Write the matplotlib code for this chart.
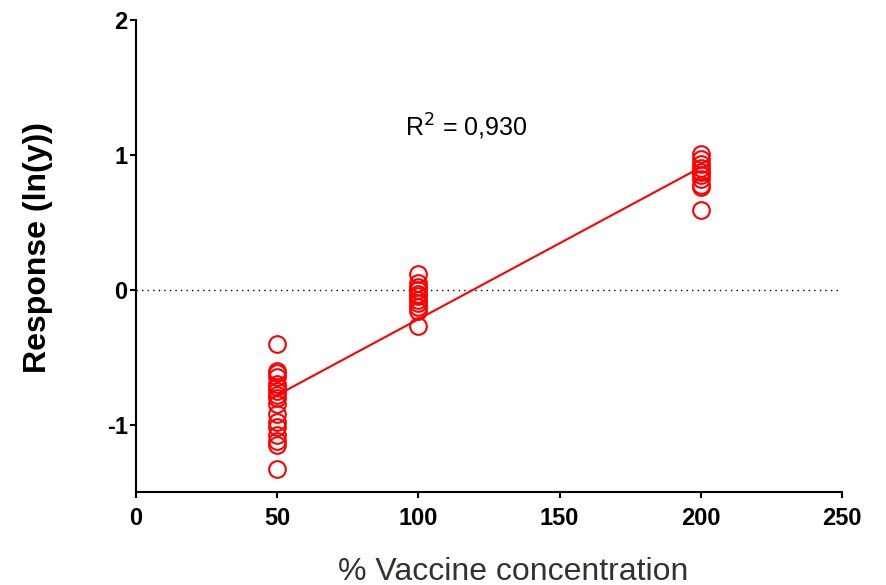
import matplotlib
matplotlib.use("Agg")
import matplotlib.pyplot as plt
import numpy as np

plt.rcParams['font.family'] = ['Liberation Sans', 'DejaVu Sans']
plt.rcParams['axes.unicode_minus'] = False

conc_50 = [-0.40, -0.60, -0.62, -0.65, -0.70, -0.72, -0.75, -0.78, -0.80, -0.85,
           -0.92, -0.98, -1.02, -1.08, -1.12, -1.15, -1.33]
conc_100 = [0.12, 0.05, 0.02, 0.0, -0.03, -0.05, -0.08, -0.10, -0.13, -0.16, -0.27]
conc_200 = [1.01, 0.97, 0.93, 0.90, 0.87, 0.85, 0.82, 0.78, 0.76, 0.59]
x_levels = [50, 100, 200]
r2_label = "R$^2$ = 0,930"
xticks = [0, 50, 100, 150, 200, 250]
yticks = [-1, 0, 1, 2]

xs = np.concatenate([[x_levels[0]] * len(conc_50), [x_levels[1]] * len(conc_100),
                     [x_levels[2]] * len(conc_200)])
ys = np.concatenate([conc_50, conc_100, conc_200])

fig = plt.figure(figsize=(8.86, 5.85), dpi=100)
ax = fig.add_axes([0.1535, 0.159, 0.7968, 0.8068])

ax.axhline(0, color='black', linestyle=(0, (1, 3)), linewidth=1.0, zorder=1)
ax.plot(xs, ys, 'o', markerfacecolor='none', markeredgecolor='#ff0000',
        markersize=12, markeredgewidth=1.5, zorder=3)

slope, intercept = np.polyfit(xs, ys, 1)
lx = np.array([min(x_levels), max(x_levels)])
ax.plot(lx, slope * lx + intercept, color='#ff0000', linewidth=1.5, zorder=2)

ax.set_xlim(0, 250)
ax.set_ylim(-1.5, 2)
ax.set_xticks(xticks)
ax.set_yticks(yticks)
for s in ['top', 'right']:
    ax.spines[s].set_visible(False)
for s in ['left', 'bottom']:
    ax.spines[s].set_linewidth(1.5)
ax.tick_params(direction='out', length=4.5, width=1.5, labelsize=17)
ax.tick_params(axis='x', pad=6)
ax.tick_params(axis='y', pad=1.5)
for lab in ax.get_xticklabels() + ax.get_yticklabels():
    lab.set_fontweight('bold')

ax.set_xlabel('% Vaccine concentration', fontsize=23, color='#33332b', va='center')
ax.xaxis.set_label_coords(0.534, -0.169)
ax.set_ylabel('Response (ln(y))', fontsize=23, fontweight='bold', va='center')
ax.yaxis.set_label_coords(-0.139, 0.517)

ax.text(95.3, 1.21, r2_label, fontsize=18, va='center', ha='left')

fig.savefig('out.png', dpi=100)
